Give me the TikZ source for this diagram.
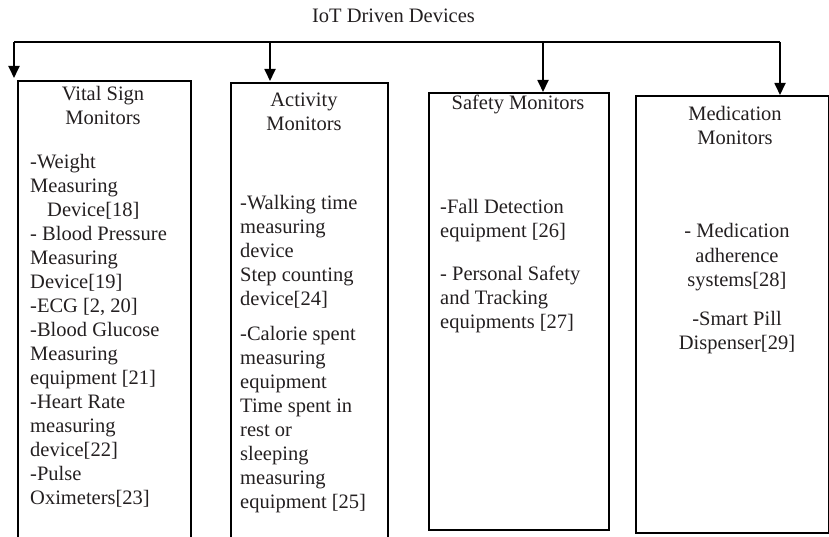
\documentclass[tikz,border=0pt]{standalone}
\usepackage{fontspec}
\setmainfont{Liberation Serif}
\usetikzlibrary{arrows.meta}

\definecolor{inkgray}{RGB}{35,31,32}
\newcommand{\monfont}{\fontsize{20.5}{24}\selectfont}

\begin{document}
\begin{tikzpicture}[x=1pt,y=-1pt,>={Triangle[width=11pt,length=12pt]},
  monbox/.style={draw,line width=1.6pt,inner sep=0pt,anchor=north west},
  head/.style={inner sep=0pt,anchor=base,align=center,font=\monfont,text=inkgray},
  entry/.style={inner sep=0pt,anchor=base west,align=left,font=\monfont,text=inkgray},
  centry/.style={entry,anchor=base,align=center},
  bus/.style={line width=1.8pt}]
 \useasboundingbox (0,0) rectangle (829,537);
 \clip (0,0) rectangle (829,537);

 \node[head] (title) at (393.5,23) {IoT Driven Devices};

 % the four monitor boxes
 \node[monbox,minimum width=173pt,minimum height=480pt] (vital)  at (17,80)  {};
 \node[monbox,minimum width=157pt,minimum height=480pt] (activity) at (230,82) {};
 \node[monbox,minimum width=180pt,minimum height=437pt] (safety) at (428,92) {};
 \node[monbox,minimum width=193pt,minimum height=437pt] (medication) at (635,95) {};

 % bus and arrows
 \coordinate (b1) at (14,42);  \coordinate (t1) at (14,78);
 \coordinate (b2) at (270,42); \coordinate (t2) at (270,81);
 \coordinate (b3) at (543,42); \coordinate (t3) at (543,92);
 \coordinate (b4) at (780,42); \coordinate (t4) at (780,95);
 \draw[bus] (b1) -- (b4);
 \foreach \i in {1,...,4}
   \draw[bus,->] (b\i) -- (t\i);

 % Vital sign monitors (base = last line)
 \node[head] (vitalhead) at (103,125) {Vital Sign\\Monitors};
 \node[entry] (vitallist) at (30,504) {-Weight\\Measuring\\\hspace*{17pt}Device[18]\\- Blood Pressure\\Measuring\\Device[19]\\-ECG [2, 20]\\-Blood Glucose\\Measuring\\equipment [21]\\-Heart Rate\\measuring\\device[22]\\-Pulse\\Oximeters[23]};

 % Activity monitors
 \node[head] (acthead) at (304,131) {Activity\\Monitors};
 \node[entry] (actwalk) at (240,305) {-Walking time\\measuring\\device\\Step counting\\device[24]};
 \node[entry] (actcal) at (240,508) {-Calorie spent\\measuring\\equipment\\Time spent in\\rest or\\sleeping\\measuring\\equipment [25]};

 % Safety monitors
 \node[head] (safehead) at (518,110) {Safety Monitors};
 \node[entry] (safefall) at (440,237) {-Fall Detection\\equipment [26]};
 \node[entry] (safetrack) at (440,328) {- Personal Safety\\and Tracking\\equipments [27]};

 % Medication monitors
 \node[head] (medhead) at (735,145) {Medication\\Monitors};
 \node[centry] (medadh) at (737,286) {- Medication\\adherence\\systems[28]};
 \node[centry] (medpill) at (737,349) {-Smart Pill\\Dispenser[29]};
\end{tikzpicture}
\end{document}
